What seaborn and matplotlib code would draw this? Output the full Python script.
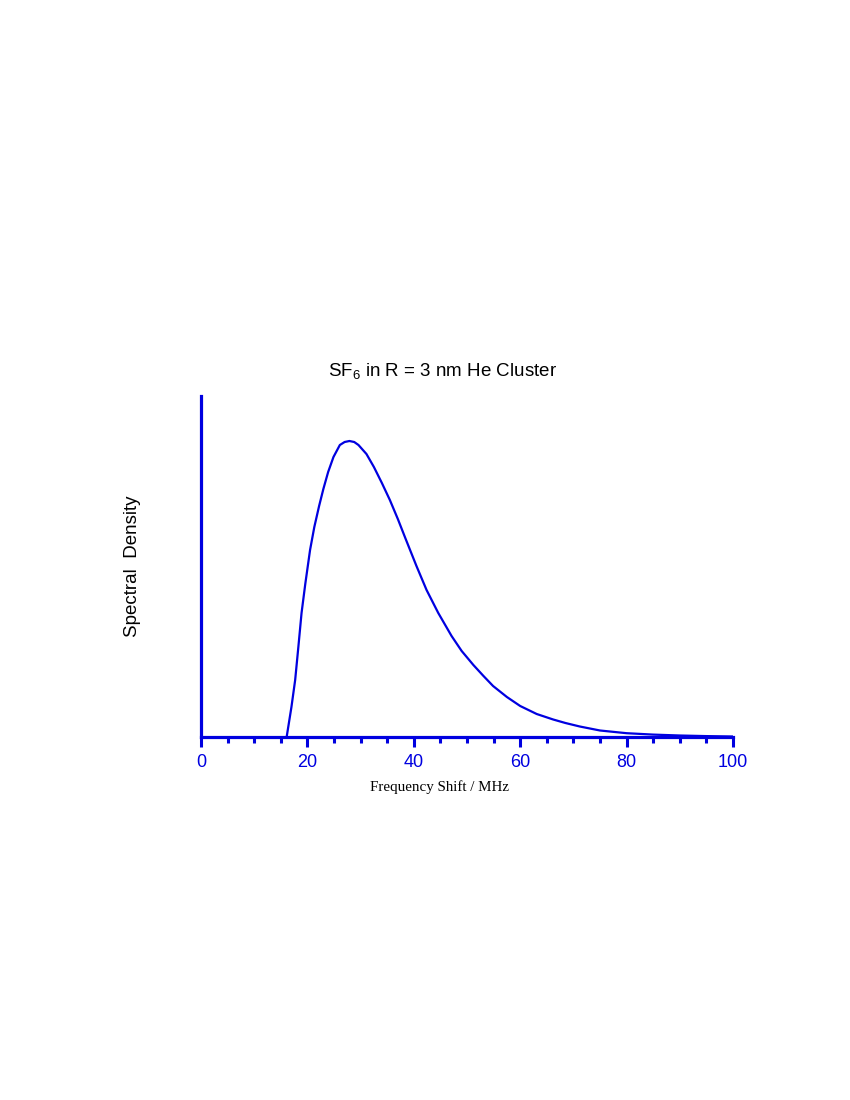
from matplotlib import pyplot as plt
from matplotlib.ticker import MultipleLocator
import seaborn as sns
import pandas as pd
import numpy as np

# values (spectral density in arbitrary units, peak ~296)
freq_shift = [16.1, 17.0, 17.7, 18.3, 18.9, 19.6, 20.5, 21.3, 22.2, 23.0, 23.9,
              24.9, 26.1, 27.0, 27.9, 28.8, 29.6, 31.1, 32.5, 34.0, 35.5, 37.0,
              38.4, 40.5, 42.4, 44.6, 47.1, 49.0, 51.2, 53.1, 54.9, 57.5, 60.0,
              63.1, 66.2, 68.5, 71.2, 75.0, 80.0, 85.0, 90.0, 95.0, 100.0]
density = [0, 30, 57, 90, 124, 153, 187, 210, 231, 248, 265,
           280, 292, 295, 296, 295, 292, 283, 270, 254, 237, 218,
           199, 171, 147, 124, 101, 86, 72, 61, 51, 40, 31,
           23, 17.5, 14, 10.5, 6.5, 3.8, 2.4, 1.5, 0.9, 0.5]

x_ticks = [0, 20, 40, 60, 80, 100]
title = r"SF$_{6}$ in R = 3 nm He Cluster"
x_label = "Frequency Shift / MHz"
y_label = "Spectral  Density"

blue = '#0000e0'

sns.set_style('white')
plt.rcParams['font.family'] = ['Liberation Sans', 'DejaVu Sans']
plt.rcParams['mathtext.default'] = 'regular'

fig = plt.figure(figsize=(8.5, 11), dpi=100)
ax = fig.add_axes([201 / 850, 363 / 1100, 532 / 850, 341 / 1100])

data = pd.DataFrame({'x': freq_shift, 'y': density})
sns.lineplot(data=data, x='x', y='y', ax=ax, color=blue, linewidth=1.6)
ax.lines[0].set_solid_joinstyle('round')

ax.set_xlim(0, 100)
ax.set_ylim(0, 341)

# spines
for side in ['top', 'right']:
    ax.spines[side].set_visible(False)
for side in ['left', 'bottom']:
    ax.spines[side].set_color(blue)
    ax.spines[side].set_linewidth(2.3)

# ticks
ax.set_xticks(x_ticks)
ax.xaxis.set_minor_locator(MultipleLocator(5))
ax.tick_params(axis='x', which='major', direction='out', length=7, width=2.2,
               color=blue, labelcolor=blue, labelsize=13, pad=5, bottom=True)
ax.tick_params(axis='x', which='minor', direction='out', length=4.5, width=2.2,
               color=blue, bottom=True)
ax.set_yticks([])

# labels
ax.set_xlabel(x_label, family=['Liberation Serif', 'DejaVu Serif'], fontsize=10.8, color='black')
ax.xaxis.set_label_coords((440 - 201) / 532, -(780 - 737) / 341)
ax.set_ylabel(y_label, fontsize=13.5, color='black')
ax.yaxis.set_label_coords(-(201 - 141) / 532, 0.5)

fig.text(443 / 850, 1 - 371 / 1100, title, ha='center', va='center', fontsize=13.5, color='black')

plt.savefig('out.png', dpi=100)
plt.close()
